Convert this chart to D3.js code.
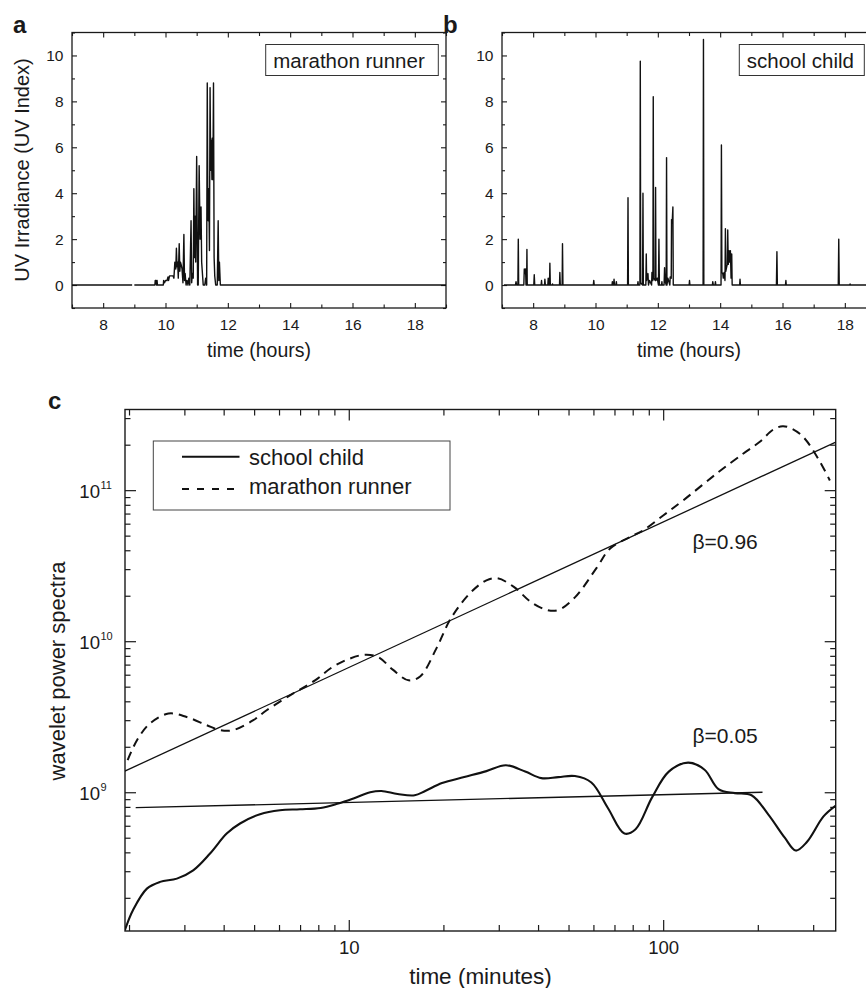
<!DOCTYPE html>
<html>
<head>
<meta charset="utf-8">
<script src="https://cdn.jsdelivr.net/npm/d3@7/dist/d3.min.js"></script>
<style>
  body { margin: 0; background: #fff; }
  text { font-family: "Liberation Sans", Arial, Helvetica, sans-serif; fill: #1a1a1a; }
</style>
</head>
<body>
<main></main>
<script>
// ---- data ----
// panels a / b : [hour of day, UV index], null = gap in the record
let runnerUV = [[7.0,0],[8.93,0],null,[9.0,0],[9.66,0],[9.67,0.2],[9.70,0.2],[9.71,0],[9.73,0.2],[9.74,0],
  [9.93,0],[9.94,0.2],[9.97,0.1],[10.0,0.2],[10.05,0.2],[10.08,0.35],[10.10,0.2],[10.13,0.4],[10.24,0.4],
  [10.27,0.3],[10.30,1.0],[10.33,0.7],[10.35,1.6],[10.37,0.8],[10.39,1.0],[10.41,0.3],[10.44,1.8],[10.46,0.6],
  [10.48,1.0],[10.50,0.9],[10.53,0.7],[10.56,0.1],[10.59,2.2],[10.61,0.2],[10.63,0.5],[10.66,0],[10.69,0.2],
  [10.72,0],[10.75,0.3],[10.78,0],[10.82,2.8],[10.84,0.1],[10.86,0.5],[10.89,0.3],[10.91,4.2],[10.93,1.2],
  [10.95,3.0],[10.97,1.0],[11.0,5.6],[11.03,0],[11.05,0],[11.08,5.2],[11.11,2.0],[11.14,3.4],[11.16,1.0],
  [11.18,0.6],[11.21,0],[11.26,0],[11.29,0.3],[11.32,0],[11.34,8.8],[11.36,3.0],[11.37,2.8],[11.39,4.2],
  [11.41,1.5],[11.43,8.6],[11.45,5.0],[11.47,6.3],[11.49,4.6],[11.50,6.4],[11.52,4.6],[11.54,8.8],[11.56,1.2],
  [11.58,0.4],[11.61,0],[11.66,0],[11.69,2.8],[11.71,0.2],[11.73,1.0],[11.76,0],[19.0,0]]

let childUV = [[7.06,0],[7.43,0],[7.45,0.15],[7.47,0],[7.51,0],[7.523,2.0],[7.535,0],[7.70,0],[7.715,0.7],
  [7.74,0.5],[7.757,0.7],[7.77,0],[7.79,0],[7.80,1.55],[7.81,0],[8.02,0],[8.035,0.45],[8.05,0],[8.255,0],
  [8.269,0.2],[8.28,0],[8.365,0],[8.376,0.25],[8.39,0],[8.47,0],[8.483,0.3],[8.50,0],[8.525,0],[8.536,0.95],
  [8.55,0],[8.61,0],[8.621,0.05],[8.63,0],[8.845,0],[8.856,0.55],[8.87,0],[8.93,0],[8.941,1.8],[8.955,0],
  [9.93,0],[9.944,0.2],[9.96,0],[10.53,0],[10.541,0.15],[10.555,0],[10.58,0],[10.595,0.25],[10.61,0],
  [10.655,0],[10.669,0.15],[10.68,0],[11.03,0],[11.043,3.8],[11.055,0],[11.35,0],[11.363,0.15],[11.375,0],
  [11.425,0],[11.437,9.75],[11.45,0.1],[11.51,0],[11.523,4.0],[11.535,0],[11.615,0],[11.629,1.35],[11.64,0.2],
  [11.683,0.5],[11.70,0],[11.736,0.2],[11.80,0],[11.811,0.55],[11.842,0.2],[11.853,8.2],[11.865,0.3],
  [11.915,0.2],[11.928,4.25],[11.94,0.2],[11.981,0.3],[12.02,0],[12.035,2.0],[12.05,0],[12.12,0],[12.131,0.15],
  [12.14,0],[12.20,0],[12.216,0.75],[12.23,0.2],[12.268,0],[12.28,5.55],[12.292,0],[12.323,0.3],[12.385,0],
  [12.397,0.35],[12.43,0.3],[12.44,2.85],[12.46,2.7],[12.483,3.4],[12.495,0],[13.005,0],[13.016,0.2],[13.03,0],
  [13.452,0],[13.464,10.7],[13.476,0],[13.75,0],[13.763,0.15],[13.78,0],[13.835,0],[13.848,0.15],[13.86,0],
  [14.028,0],[14.04,6.1],[14.055,0.55],[14.083,0.5],[14.10,0.3],[14.125,0.55],[14.155,0.2],[14.168,2.45],
  [14.18,0.6],[14.211,0.8],[14.228,0.9],[14.243,2.4],[14.26,0.9],[14.285,1.5],[14.30,1.0],[14.328,1.5],
  [14.35,0.3],[14.371,1.35],[14.385,0],[14.625,0],[14.637,0.25],[14.65,0],[15.805,0],[15.821,1.45],[15.835,0],
  [16.095,0],[16.109,0.2],[16.12,0],[17.79,0],[17.805,2.0],[17.82,0],[18.155,0],[18.168,0.05],[18.18,0],[19.0,0]]

let hourTicks = [8, 10, 12, 14, 16, 18]
let uvTicks = [0, 2, 4, 6, 8, 10]

// panel c : wavelet power spectra vs period (minutes)
let childMinutes = [1.94, 2.06, 2.28, 2.51, 2.84, 3.20, 3.62, 4.09, 4.51, 5.22, 6.04, 7.0, 8.14, 9.19, 10.4,
  11.7, 12.7, 14.3, 16.2, 17.5, 19.8, 23.3, 27.4, 31.6, 36.4, 41.0, 46.4, 52.4, 59.1, 66.7, 75.3, 81.7, 92.2,
  104.2, 120.0, 135.4, 149.9, 169, 191, 215.8, 243.6, 264.1, 286.4, 323.6, 353.2]
let childPower = [1.22e8, 1.66e8, 2.30e8, 2.55e8, 2.68e8, 3.04e8, 3.93e8, 5.33e8, 6.21e8, 7.15e8, 7.6e8, 7.71e8,
  7.87e8, 8.39e8, 9.14e8, 1.0e9, 1.02e9, 9.74e8, 9.55e8, 1.02e9, 1.15e9, 1.26e9, 1.38e9, 1.51e9, 1.37e9, 1.24e9,
  1.26e9, 1.28e9, 1.16e9, 7.87e8, 5.33e8, 5.69e8, 9.25e8, 1.37e9, 1.57e9, 1.41e9, 1.05e9, 9.87e8, 9.55e8, 7.14e8,
  5.0e8, 4.11e8, 4.68e8, 6.92e8, 8.13e8]

let runnerMinutes = [1.98, 2.12, 2.33, 2.67, 3.05, 3.53, 3.89, 4.29, 4.97, 5.48, 6.66, 7.81, 8.82, 10, 11.2, 12.4,
  13.8, 15.5, 16.9, 19.0, 21.1, 24.3, 27.4, 29.7, 33.5, 37.8, 42.7, 46.4, 52.4, 61.5, 67.8, 78.5, 86.5, 100, 116,
  148, 180, 203, 224, 240, 256, 279, 311, 339]
let runnerPower = [1.63e9, 2.21e9, 2.85e9, 3.32e9, 3.15e9, 2.78e9, 2.58e9, 2.58e9, 3.0e9, 3.49e9, 4.51e9, 5.5e9,
  6.69e9, 7.62e9, 8.13e9, 7.86e9, 6.48e9, 5.51e9, 5.87e9, 8.96e9, 1.41e10, 2.08e10, 2.53e10, 2.61e10, 2.29e10,
  1.83e10, 1.61e10, 1.61e10, 1.95e10, 3.07e10, 4.11e10, 4.9e10, 5.43e10, 6.8e10, 8.58e10, 1.29e11, 1.75e11,
  2.09e11, 2.52e11, 2.65e11, 2.56e11, 2.25e11, 1.62e11, 1.16e11]

// power-law fits: [minutes, power] at both ends
let runnerFit = [[1.94, 1.38e9], [354, 2.08e11]]
let childFit = [[2.1, 7.9e8], [207, 1.0e9]]
let fitLabels = ["β=0.96", "β=0.05"]

let minuteTicks = [10, 100]
let powerTicks = [1e9, 1e10, 1e11]
let legendNames = ["school child", "marathon runner"]

// ---- drawing ----
let svg = d3.select('main')
    .append('svg')
    .attr('width', 866)
    .attr('height', 988)

svg.append("defs").append("clipPath")
    .attr("id", "clipC")
    .append("rect")
    .attr("x", 125).attr("y", 409.5)
    .attr("width", 711).attr("height", 521.5)

let ink = "#1a1a1a"

function uvPanel(left, letter, data, name, boxX, boxW) {
    let x = d3.scaleLinear().domain([7, 19]).range([left, left + 374])
    let y = d3.scaleLinear().domain([-1, 11]).range([308, 32.5])
    let g = svg.append("g")

    let minorHours = d3.range(7, 20).filter(d => hourTicks.indexOf(d) < 0)
    let minorUV = d3.range(-1, 12).filter(d => uvTicks.indexOf(d) < 0)

    // ticks pointing inwards on all four sides
    let addAxis = function (axis, tx, ty) {
        let a = g.append("g").attr("transform", `translate(${tx},${ty})`).call(axis)
        a.select(".domain").remove()
        a.selectAll("line").attr("stroke", ink).attr("stroke-width", 1.1)
        a.selectAll("text").attr("fill", ink).style("font-size", "15.5px")
        return a
    }
    addAxis(d3.axisBottom(x).tickValues(hourTicks).tickSize(-5).tickPadding(10.5), 0, 308)
    addAxis(d3.axisBottom(x).tickValues(minorHours).tickSize(-3.5).tickFormat(""), 0, 308)
    addAxis(d3.axisTop(x).tickValues(hourTicks).tickSize(-5).tickFormat(""), 0, 32.5)
    addAxis(d3.axisTop(x).tickValues(minorHours).tickSize(-3.5).tickFormat(""), 0, 32.5)
    addAxis(d3.axisLeft(y).tickValues(uvTicks).tickSize(-5).tickPadding(8.5), left, 0)
    addAxis(d3.axisLeft(y).tickValues(minorUV).tickSize(-3).tickFormat(""), left, 0)
    addAxis(d3.axisRight(y).tickValues(uvTicks).tickSize(-5).tickFormat(""), left + 374, 0)
    addAxis(d3.axisRight(y).tickValues(minorUV).tickSize(-3).tickFormat(""), left + 374, 0)

    g.append("rect")
        .attr("x", left).attr("y", 32.5)
        .attr("width", 374).attr("height", 275.5)
        .attr("fill", "none")
        .attr("stroke", ink)
        .attr("stroke-width", 1.3)

    let line = d3.line()
        .defined(d => d !== null)
        .x(d => x(d[0]))
        .y(d => y(d[1]))
    g.append("path")
        .attr("d", line(data))
        .attr("fill", "none")
        .attr("stroke", "#111")
        .attr("stroke-width", 1.4)
        .attr("stroke-linejoin", "round")

    // label box
    g.append("rect")
        .attr("x", boxX).attr("y", 44.5)
        .attr("width", boxW).attr("height", 31)
        .attr("fill", "#fff")
        .attr("stroke", "#333")
        .attr("stroke-width", 1)
    g.append("text")
        .attr("x", boxX + 7.5).attr("y", 68)
        .style("font-size", "20.5px")
        .text(name)

    g.append("text")
        .attr("x", (left + left + 374) / 2).attr("y", 357)
        .attr("text-anchor", "middle")
        .style("font-size", "19.5px")
        .text("time (hours)")

    g.append("text")
        .attr("x", left - 59).attr("y", 33)
        .style("font-size", "24px")
        .style("font-weight", "bold")
        .text(letter)
}

uvPanel(72, "a", runnerUV, "marathon runner", 265.7, 172.6)
uvPanel(502, "b", childUV, "school child", 739.3, 125)

svg.append("text")
    .attr("transform", "translate(29,170) rotate(-90)")
    .attr("text-anchor", "middle")
    .style("font-size", "20px")
    .text("UV Irradiance (UV Index)")

// ---- panel c ----
let xC = d3.scaleLog().domain([1.942, 353.8]).range([125, 835.7])
let yC = d3.scaleLog().domain([1.206e8, 3.42e11]).range([931, 409.5])
let gC = svg.append("g")

let minorMinutes = xC.ticks().filter(d => minuteTicks.indexOf(d) < 0)
let minorPower = yC.ticks().filter(d => powerTicks.indexOf(d) < 0)

function addAxisC(axis, tx, ty) {
    let a = gC.append("g").attr("transform", `translate(${tx},${ty})`).call(axis)
    a.select(".domain").remove()
    a.selectAll("line").attr("stroke", ink).attr("stroke-width", 1.2)
    a.selectAll("text").attr("fill", ink).style("font-size", "18.6px")
    return a
}
addAxisC(d3.axisBottom(xC).tickValues(minuteTicks).tickSize(-11).tickPadding(10).tickFormat(d3.format("d")), 0, 931)
addAxisC(d3.axisBottom(xC).tickValues(minorMinutes).tickSize(-6).tickFormat(""), 0, 931)
addAxisC(d3.axisTop(xC).tickValues(minuteTicks).tickSize(-11).tickFormat(""), 0, 409.5)
addAxisC(d3.axisTop(xC).tickValues(minorMinutes).tickSize(-6).tickFormat(""), 0, 409.5)
addAxisC(d3.axisLeft(yC).tickValues(powerTicks).tickSize(-11).tickFormat(""), 125, 0)
addAxisC(d3.axisLeft(yC).tickValues(minorPower).tickSize(-5.5).tickFormat(""), 125, 0)
addAxisC(d3.axisRight(yC).tickValues(powerTicks).tickSize(-11).tickFormat(""), 835.7, 0)
addAxisC(d3.axisRight(yC).tickValues(minorPower).tickSize(-5.5).tickFormat(""), 835.7, 0)

// 10^n labels
let powLabels = gC.selectAll(".powlabel")
    .data(powerTicks)
    .enter()
    .append("text")
    .attr("class", "powlabel")
    .attr("x", 100)
    .attr("y", d => yC(d) + 7.5)
    .attr("text-anchor", "end")
    .style("font-size", "18.6px")
    .text("10")
gC.selectAll(".powexp")
    .data(powerTicks)
    .enter()
    .append("text")
    .attr("class", "powexp")
    .attr("x", 100.5)
    .attr("y", d => yC(d) - 1.5)
    .style("font-size", "11px")
    .text(d => Math.round(Math.log10(d)))

gC.append("rect")
    .attr("x", 125).attr("y", 409.5)
    .attr("width", 710.7).attr("height", 521.5)
    .attr("fill", "none")
    .attr("stroke", ink)
    .attr("stroke-width", 1.4)

let lineC = d3.line()
    .x(d => xC(d[0]))
    .y(d => yC(d[1]))
let curveC = d3.line()
    .curve(d3.curveCatmullRom.alpha(0.5))
    .x(d => xC(d[0]))
    .y(d => yC(d[1]))

let plotC = gC.append("g").attr("clip-path", "url(#clipC)")

plotC.append("path")
    .attr("d", lineC(runnerFit))
    .attr("fill", "none").attr("stroke", "#111").attr("stroke-width", 1.3)
plotC.append("path")
    .attr("d", lineC(childFit))
    .attr("fill", "none").attr("stroke", "#111").attr("stroke-width", 1.3)

plotC.append("path")
    .attr("d", curveC(d3.zip(runnerMinutes, runnerPower)))
    .attr("fill", "none")
    .attr("stroke", "#111")
    .attr("stroke-width", 2)
    .attr("stroke-dasharray", "9,6")
plotC.append("path")
    .attr("d", curveC(d3.zip(childMinutes, childPower)))
    .attr("fill", "none")
    .attr("stroke", "#111")
    .attr("stroke-width", 2.1)

gC.selectAll(".beta")
    .data(fitLabels)
    .enter()
    .append("text")
    .attr("class", "beta")
    .attr("x", xC(124))
    .attr("y", (d, i) => i == 0 ? yC(4.07e10) : yC(2.11e9))
    .style("font-size", "21px")
    .text(d => d)

// legend
let leg = gC.append("g")
leg.append("rect")
    .attr("x", 153.3).attr("y", 441)
    .attr("width", 296.7).attr("height", 69)
    .attr("fill", "#fff")
    .attr("stroke", "#444")
    .attr("stroke-width", 1)
leg.selectAll("line")
    .data(legendNames)
    .enter()
    .append("line")
    .attr("x1", 182).attr("x2", 239.5)
    .attr("y1", (d, i) => 456.7 + i * 32.3)
    .attr("y2", (d, i) => 456.7 + i * 32.3)
    .attr("stroke", "#111")
    .attr("stroke-width", 2)
    .attr("stroke-dasharray", (d, i) => i == 0 ? null : "7,8")
leg.selectAll("text")
    .data(legendNames)
    .enter()
    .append("text")
    .attr("x", 249)
    .attr("y", (d, i) => 465 + i * 28.5)
    .style("font-size", "22px")
    .text(d => d)

gC.append("text")
    .attr("x", 480.4).attr("y", 984)
    .attr("text-anchor", "middle")
    .style("font-size", "22.5px")
    .text("time (minutes)")

gC.append("text")
    .attr("transform", "translate(65,671) rotate(-90)")
    .attr("text-anchor", "middle")
    .style("font-size", "22px")
    .text("wavelet power spectra")

gC.append("text")
    .attr("x", 48).attr("y", 409)
    .style("font-size", "24px")
    .style("font-weight", "bold")
    .text("c")
</script>
</body>
</html>
